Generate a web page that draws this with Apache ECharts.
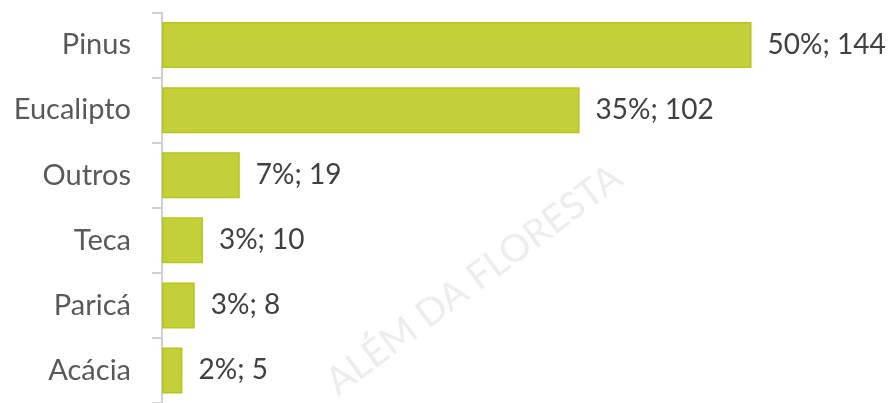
<!DOCTYPE html>
<html>
<head>
<meta charset="utf-8">
<script src="https://cdn.jsdelivr.net/npm/echarts@6/dist/echarts.min.js"></script>
<style>
  html, body { margin: 0; padding: 0; background: #fff; }
  #myChart { width: 892px; height: 403px; }
</style>
</head>
<body>
<div id="myChart"></div>
<script>
// especies e areas (top -> bottom)
var categories = ['Pinus', 'Eucalipto', 'Outros', 'Teca', 'Paricá', 'Acácia'];
var values = [144, 102, 19, 10, 8, 5];
var shares = ['50%', '35%', '7%', '3%', '3%', '2%'];

var myChart = echarts.init(document.getElementById('myChart'));

var option = {
    animation: false,
    grid: { left: 162, right: 34, top: 12.5, height: 398 },
    xAxis: {
        type: 'value', min: 0, max: 170, show: false
    },
    yAxis: {
        type: 'category',
        inverse: true,
        data: categories,
        axisLine: { show: true, lineStyle: { color: '#d0d0d0', width: 2 } },
        axisTick: { show: true, length: 10, lineStyle: { color: '#d0d0d0', width: 2 } },
        axisLabel: { color: '#595959', fontFamily: 'Lato', fontSize: 29, margin: 31 }
    },
    graphic: [{
        type: 'text', x: 342, y: 402, rotation: 0.64, z: -1,
        style: {
            text: 'ALÉM DA FLORESTA', fill: '#ededed', font: '38px Lato',
            textVerticalAlign: 'bottom'
        }
    }],
    series: [{
        type: 'bar',
        data: values,
        barWidth: 46,
        itemStyle: { color: '#c3d03a', borderColor: '#b3c520', borderWidth: 1.5 },
        label: {
            show: true, position: 'right', distance: 16,
            color: '#404040', fontFamily: 'Lato', fontSize: 28,
            formatter: function (p) { return shares[p.dataIndex] + '; ' + p.value; }
        }
    }]
};
myChart.setOption(option);
</script>
</body>
</html>
